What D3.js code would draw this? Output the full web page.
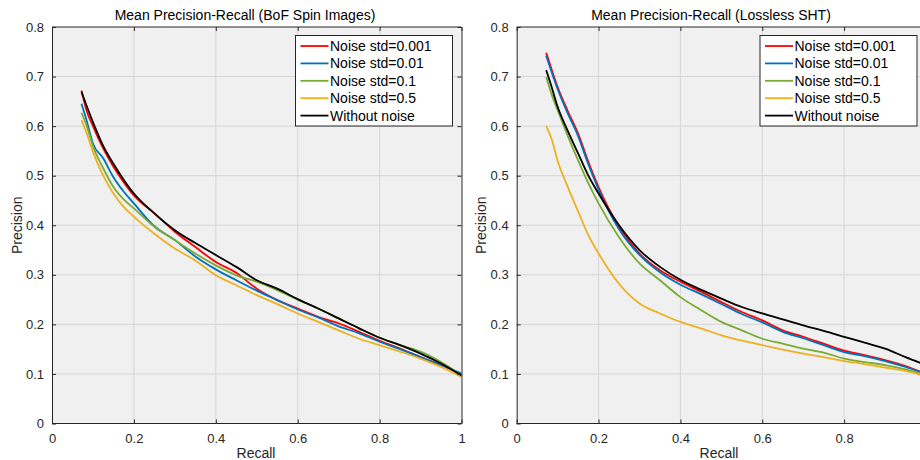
<!DOCTYPE html>
<html><head><meta charset="utf-8">
<script src="https://cdn.jsdelivr.net/npm/d3@7"></script>
<style>
html,body{margin:0;padding:0;background:#fff;}
svg{display:block;font-family:"Liberation Sans",Arial,sans-serif;}
</style></head>
<body><svg id="chart" width="920" height="460"></svg>
<script>
// ---- data ----
const seriesNames = ["Noise std=0.001","Noise std=0.01","Noise std=0.1","Noise std=0.5","Without noise"];
const seriesColors = ["#ff0000","#0072bd","#77ac30","#edb120","#000000"];
const recall = [0.072,0.085,0.1,0.125,0.15,0.175,0.2,0.25,0.3,0.35,0.4,0.45,0.5,0.55,0.6,0.65,0.7,0.75,0.8,0.85,0.9,0.95,1.0];

// Left: BoF Spin Images
const bofRed    = [0.672,0.630,0.600,0.555,0.518,0.487,0.460,0.424,0.387,0.356,0.326,0.304,0.272,0.249,0.232,0.215,0.202,0.185,0.167,0.151,0.134,0.118,0.099];
const bofBlue   = [0.645,0.610,0.565,0.535,0.497,0.468,0.444,0.398,0.370,0.337,0.311,0.289,0.268,0.249,0.230,0.214,0.196,0.182,0.165,0.150,0.134,0.118,0.101];
const bofGreen  = [0.627,0.600,0.560,0.515,0.477,0.452,0.434,0.397,0.370,0.343,0.319,0.299,0.286,0.269,0.250,0.232,0.212,0.192,0.173,0.158,0.145,0.124,0.097];
const bofYellow = [0.612,0.585,0.548,0.500,0.464,0.437,0.417,0.383,0.353,0.329,0.299,0.279,0.259,0.241,0.222,0.205,0.188,0.171,0.158,0.145,0.131,0.114,0.094];
const bofBlack  = [0.669,0.640,0.608,0.560,0.524,0.492,0.464,0.424,0.390,0.364,0.340,0.316,0.289,0.272,0.251,0.232,0.212,0.192,0.173,0.158,0.141,0.121,0.097];

// Right: Lossless SHT
const shtRed    = [0.748,0.715,0.679,0.630,0.585,0.528,0.477,0.397,0.343,0.309,0.286,0.266,0.245,0.225,0.208,0.188,0.175,0.161,0.147,0.138,0.128,0.116,0.100];
const shtBlue   = [0.742,0.710,0.675,0.625,0.580,0.523,0.472,0.392,0.340,0.305,0.280,0.261,0.241,0.221,0.204,0.185,0.172,0.158,0.144,0.136,0.126,0.114,0.100];
const shtGreen  = [0.699,0.665,0.632,0.580,0.531,0.485,0.444,0.376,0.323,0.289,0.255,0.229,0.205,0.188,0.171,0.161,0.151,0.143,0.131,0.124,0.118,0.109,0.097];
const shtYellow = [0.600,0.575,0.530,0.477,0.428,0.380,0.343,0.282,0.242,0.222,0.205,0.192,0.178,0.167,0.158,0.149,0.141,0.134,0.126,0.120,0.113,0.106,0.095];
const shtBlack  = [0.713,0.680,0.639,0.590,0.545,0.500,0.464,0.400,0.350,0.316,0.290,0.270,0.252,0.235,0.222,0.210,0.198,0.187,0.175,0.163,0.151,0.134,0.118];

const xTicks = [0,0.2,0.4,0.6,0.8,1];
const yTicks = [0,0.1,0.2,0.3,0.4,0.5,0.6,0.7,0.8];
const xTickLabels = ["0","0.2","0.4","0.6","0.8","1"];
const yTickLabels = ["0","0.1","0.2","0.3","0.4","0.5","0.6","0.7","0.8"];

const svg = d3.select("#chart");
const axisCol = "#262626";
const W = 920;

function panel(cfg){
  const x = d3.scaleLinear().domain([0,1]).range([cfg.x0,cfg.x1]);
  const y = d3.scaleLinear().domain([0,0.8]).range([cfg.yb,cfg.yt]);
  const g = svg.append("g");
  g.append("rect").attr("x",cfg.x0).attr("y",cfg.yt).attr("width",cfg.x1-cfg.x0).attr("height",cfg.yb-cfg.yt).attr("fill","#f0f0f0");
  // grid
  g.append("g").selectAll("line").data(xTicks.slice(1,-1)).join("line")
    .attr("x1",d=>x(d)).attr("x2",d=>x(d)).attr("y1",cfg.yt).attr("y2",cfg.yb)
    .attr("stroke","#d6d6d6").attr("stroke-width",1);
  g.append("g").selectAll("line").data(yTicks.slice(1,-1)).join("line")
    .attr("y1",d=>y(d)).attr("y2",d=>y(d)).attr("x1",cfg.x0).attr("x2",cfg.x1)
    .attr("stroke","#d6d6d6").attr("stroke-width",1);
  // lines
  const clipId = "clip"+cfg.id;
  svg.append("clipPath").attr("id",clipId).append("rect").attr("x",cfg.x0).attr("y",cfg.yt).attr("width",cfg.x1-cfg.x0).attr("height",cfg.yb-cfg.yt);
  const line = d3.line().x((d,i)=>x(recall[i])).y(d=>y(d)).curve(d3.curveMonotoneX);
  const lg = g.append("g").attr("clip-path",`url(#${clipId})`);
  [0,1,2,3,4].forEach(i=>{
    lg.append("path").datum(cfg.series[i]).attr("d",line)
      .attr("fill","none").attr("stroke",seriesColors[i]).attr("stroke-width",1.8).attr("stroke-linejoin","round");
  });
  // axes (ticks inward); labels only for ticks inside the visible page
  const visX = xTicks.filter(t=>x(t) <= W-4);
  const ax = d3.axisBottom(x).tickValues(visX).tickFormat(d=>xTickLabels[xTicks.indexOf(d)]).tickSizeInner(-4).tickSizeOuter(0).tickPadding(10);
  const axT = d3.axisTop(x).tickValues(visX).tickFormat("").tickSizeInner(-4).tickSizeOuter(0);
  const ay = d3.axisLeft(y).tickValues(yTicks).tickFormat((d,i)=>yTickLabels[i]).tickSizeInner(-4).tickSizeOuter(0).tickPadding(8);
  const ayR = d3.axisRight(y).tickValues(yTicks).tickFormat("").tickSizeInner(-4).tickSizeOuter(0);
  const style = s=>{ s.selectAll("path,line").attr("stroke",axisCol); s.selectAll("text").attr("fill",axisCol).attr("font-size",13).attr("font-family","Liberation Sans, Arial, sans-serif"); };
  const bx = g.append("g").attr("transform",`translate(0,${cfg.yb})`).call(ax).call(style);
  bx.select(".domain").attr("d",`M${cfg.x0},0H${cfg.x1}`);
  const tx = g.append("g").attr("transform",`translate(0,${cfg.yt})`).call(axT).call(style);
  tx.select(".domain").attr("d",`M${cfg.x0},0H${cfg.x1}`);
  g.append("g").attr("transform",`translate(${cfg.x0},0)`).call(ay).call(style);
  g.append("g").attr("transform",`translate(${cfg.x1},0)`).call(ayR).call(style);
  // labels
  g.append("text").attr("x",cfg.titleX).attr("y",20).attr("text-anchor","middle").attr("font-size",14).attr("fill","#000").text(cfg.title);
  g.append("text").attr("x",cfg.recallX).attr("y",458).attr("text-anchor","middle").attr("font-size",14).attr("fill",axisCol).text("Recall");
  g.append("text").attr("transform",`translate(${cfg.ylabX},${(cfg.yt+cfg.yb)/2}) rotate(-90)`).attr("text-anchor","middle").attr("font-size",14).attr("fill",axisCol).text("Precision");
  // legend
  const L = cfg.legend;
  const leg = g.append("g");
  leg.append("rect").attr("x",L.x).attr("y",L.y).attr("width",L.w).attr("height",L.h).attr("fill","#fff").attr("stroke",axisCol).attr("stroke-width",1);
  seriesNames.forEach((n,i)=>{
    const cy = L.y+10.5+i*17.4;
    leg.append("line").attr("x1",L.x+5).attr("x2",L.x+33).attr("y1",cy).attr("y2",cy).attr("stroke",seriesColors[i]).attr("stroke-width",1.8);
    leg.append("text").attr("x",L.x+34.5).attr("y",cy+5).attr("font-size",14).attr("fill","#000").text(n);
  });
}

panel({id:"L",x0:52,x1:461.5,yt:27,yb:423.5,title:"Mean Precision-Recall (BoF Spin Images)",titleX:245,recallX:256,ylabX:21.5,
  series:[bofRed,bofBlue,bofGreen,bofYellow,bofBlack],legend:{x:295.5,y:35.5,w:157,h:90.5}});
panel({id:"R",x0:516.7,x1:926,yt:27,yb:423.5,title:"Mean Precision-Recall (Lossless SHT)",titleX:711,recallX:719,ylabX:486,
  series:[shtRed,shtBlue,shtGreen,shtYellow,shtBlack],legend:{x:760,y:35.5,w:157,h:90.5}});
</script></body></html>
